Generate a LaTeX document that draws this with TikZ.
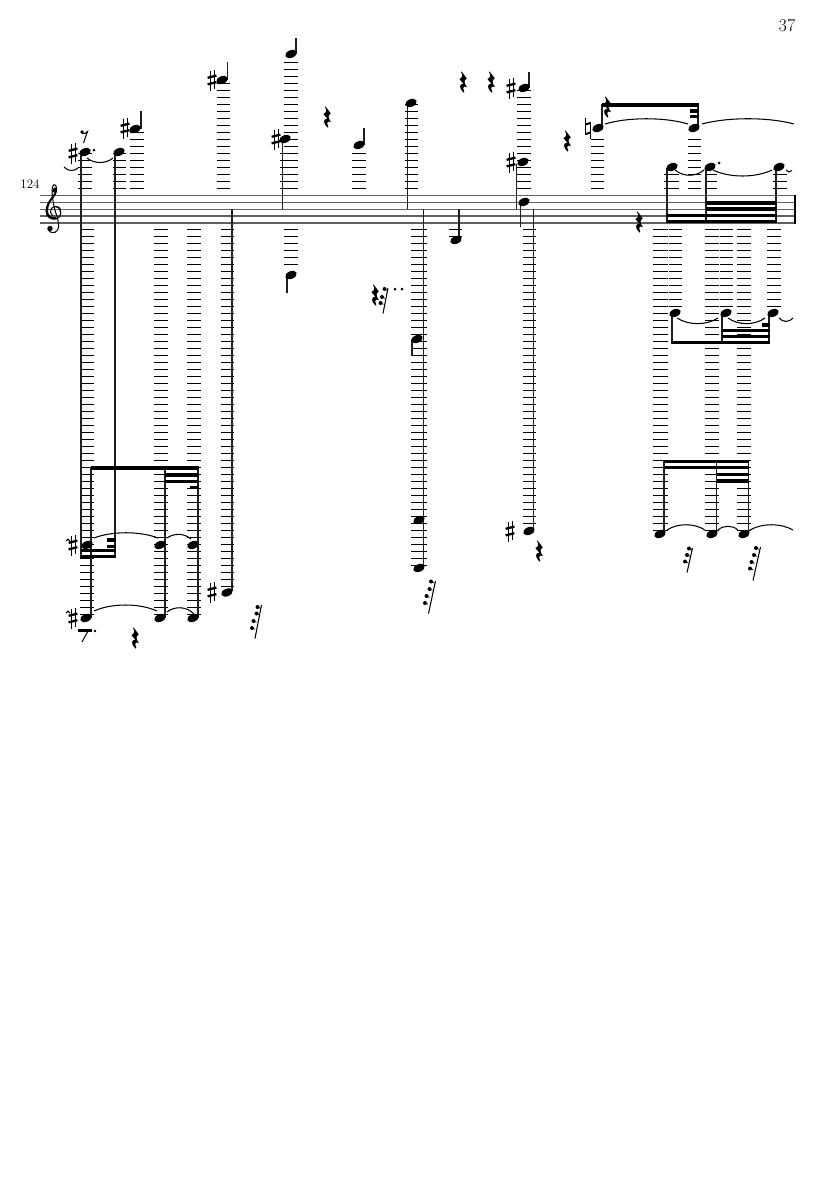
\documentclass[tikz,border=0pt]{standalone}
\usetikzlibrary{calc}
\tikzset{
  stafflines/.style={draw=black!62,line width=1.4pt},
  ledgerline/.style={draw=black,line width=1.92pt},
  stemline/.style={draw=black!88,line width=1.3pt},
  tieline/.style={draw=black,line width=1.05pt},
  beamline/.style={draw=black,line width=3.4pt},
  numtext/.style={inner sep=0pt},
}
\newcommand{\ledup}[3]{\foreach \k in {1,...,#3}{\draw[ledgerline] (#1,{188.5-7*(\k-1)}) -- (#2,{188.5-7*(\k-1)});}}
\newcommand{\leddn}[3]{\foreach \k in {1,...,#3}{\draw[ledgerline] (#1,{229.5+7*(\k-1)}) -- (#2,{229.5+7*(\k-1)});}}
\newcommand{\nhead}[2]{\fill (#1,#2) ellipse[x radius=6pt,y radius=3.8pt,rotate=22];}
\newcommand{\stm}[3]{\draw[stemline] (#1,#2) -- (#1,#3);}
\newcommand{\bm}[3]{\draw[beamline] (#1,#3) -- (#2,#3);}
\newcommand{\tiearc}[5]{\pgfmathsetmacro{\ca}{#1+(#3-#1)*.28}\pgfmathsetmacro{\cb}{#1+(#3-#1)*.72}\draw[tieline] (#1,#2) .. controls (\ca,#5) and (\cb,#5) .. (#3,#4);}
\newcommand{\shp}[2]{\begin{scope}[shift={(#1,#2)}]
  \draw[line width=.85pt] (-2,-9) -- (-2,10.5) (2,-10.5) -- (2,9);
  \draw[line width=2.3pt] (-4.4,-2.2) -- (4.4,-4.4) (-4.4,4.4) -- (4.4,2.2);
\end{scope}}
\newcommand{\qrest}[2]{\begin{scope}[shift={(#1,#2)}]
  \fill (-1.4,-10.5) -- (3.8,-3.6) .. controls (1.4,-2) and (0.2,0) .. (4,5.2)
   .. controls (0.8,3.4) and (-1,5) .. (1.4,10) -- (0.4,10.5)
   .. controls (-4.4,6) and (-3.8,1.6) .. (0.4,1.8)
   -- (-3.6,-3) .. controls (-0.3,-4.5) and (0,-7) .. (-2.1,-10) -- cycle;
\end{scope}}
\newcommand{\slashdots}[6]{\draw[line width=1.05pt] (#1,#2) -- (#3,#4);
  \foreach \px/\py in {#5}{\fill (\px,\py) circle[radius=#6pt];\draw[line width=.8pt] (\px,\py) -- ++(3,1.3);}}
\begin{document}
\begin{tikzpicture}[x=1pt,y=-1pt]
\fill[white] (0,0) rectangle (835,1181);
\useasboundingbox (0,0) rectangle (835,1181);
\node[numtext,font=\fontsize{18}{18}\selectfont] (pageno) at (787,25.5) {37};
\node[numtext,font=\fontsize{13}{13}\selectfont] (barno) at (30,184.5) {124};
% staff
\foreach \yy in {195.4,202.3,209.2,216.1,223}{\draw[stafflines] (40,\yy) -- (795,\yy);}
\draw[black,line width=1.2pt] (795,195) -- (795,223.5);
% clef
\begin{scope}[shift={(54,209)}]
 \draw[line width=1pt,fill=none] (3,7.5) .. controls (-1,-3) and (-2,-16) .. (-2,-19) .. controls (-2,-25) and (2,-27) .. (2.6,-20) .. controls (3,-13) and (-8,-8) .. (-8,2) .. controls (-8,8) and (-3,11) .. (2,10) .. controls (8,9) and (9,-1) .. (2,-2.4) .. controls (-3,-3) and (-5.5,3) .. (-1.5,6.5);
 \draw[line width=2pt] (-1,-17) .. controls (0,-21) and (2,-22) .. (2,-18) .. controls (2,-13) and (-7,-9) .. (-7,2) .. controls (-7,7) and (-3,10) .. (2,9.2);
 \draw[line width=1.3pt] (6.3,3) .. controls (7,-1) and (4,-2.4) .. (2,-2.4);
 \draw[line width=1pt] (3,7.5) .. controls (5,15) and (6,21) .. (1,23.3) .. controls (-3,24.5) and (-6,22) .. (-6,19.5);
 \fill (-4,19.5) circle[radius=2.7pt];
\end{scope}
% ledger lines above
\ledup{78}{92}{6}
\ledup{112.5}{126}{6}
\ledup{130}{143.5}{9}
\ledup{216.5}{230}{16}
\ledup{284}{298}{19}
\ledup{280}{293}{6}
\ledup{352}{366}{6}
\ledup{404.5}{418}{13}
\ledup{517}{531}{15}
\ledup{591}{604}{8}
\ledup{664}{679}{3}
\ledup{687.5}{701}{8}
\ledup{705}{717}{3}
\ledup{773}{787}{3}
% ledger lines below
\leddn{80}{93.5}{56}
\leddn{154}{167.5}{56}
\leddn{187}{200.5}{56}
\leddn{221}{234}{52}
\leddn{284}{298}{6}
\leddn{411}{426.5}{49}
\leddn{449}{462}{2}
\leddn{522.5}{536}{43}
\leddn{653}{667.5}{44}
\leddn{668.5}{682}{12}
\leddn{705}{719}{44}
\leddn{719.5}{733}{12}
\leddn{737}{751}{44}
\leddn{767}{781}{12}
% stems
\stm{81}{155}{558}\stm{115}{155}{558}\stm{91}{467}{618}
\stm{165}{467}{618}\stm{198}{467}{618}\stm{232}{209}{591}
\stm{141}{111}{129}\stm{227.5}{62}{80}\stm{296}{38}{54}
\stm{282.5}{141}{209}\stm{287}{276}{293}\stm{364}{128}{145}
\stm{407.5}{105}{209}\stm{412}{339}{356}\stm{423.5}{209}{568}
\stm{459}{209}{239}\stm{529}{72}{88}\stm{516.5}{164}{209}
\stm{520.5}{203}{227}\stm{533.5}{209}{531}
\stm{602}{104}{128}\stm{698}{104}{128}
\stm{667}{168}{223}\stm{706}{168}{223}\stm{776}{168}{223}
\stm{672}{314}{344}\stm{722}{314}{344}\stm{769}{314}{344}
\stm{664}{460}{533}\stm{716.5}{460}{533}\stm{748.5}{460}{533}
% beams
\bm{91}{198.5}{468}\bm{165}{198.5}{475}\bm{165}{198.5}{481.5}\bm{190}{198.5}{487.5}
\bm{80.5}{115.5}{556.5}\bm{80.5}{115.5}{550.5}\bm{107}{115.5}{540}\bm{107}{115.5}{546.5}
\bm{602}{698.5}{105}\bm{690}{698.5}{111}\bm{690}{698.5}{116.5}
\bm{667}{776.5}{221.5}\bm{667}{706}{215.5}\bm{706}{776.5}{215.5}\bm{706}{776.5}{209}\bm{706}{776.5}{203}
\bm{671.5}{769.5}{342.5}\bm{722}{769.5}{336.5}\bm{722}{769.5}{330.5}\bm{762}{769.5}{325}
\bm{664}{749}{461.5}\bm{664}{749}{467.5}\bm{716.5}{749}{474.5}\bm{716.5}{749}{481}
% noteheads
\foreach \nx/\ny in {85/152,119/152,135/129,222/80,291/54,285/139,291/275,359/145,411/103,
  87/545,160/545,193/545,86/618,160/618,193/618,227/592.5,417/339,419/520,419/568,456/240,
  524/88,523/162,524/202,529/531,598/128,694/128,672/167,710/167,779/167,675/313,726/313,773/313,
  660/534,712/534,744/534}{\nhead{\nx}{\ny}}
% accidentals
\foreach \ax/\ay in {73/153,125/128,212/80,276/139,73/545,73/618,212/592,511/88,511/162,510/531}{\shp{\ax}{\ay}}
\begin{scope}[shift={(588,128)}]
 \draw[line width=.9pt] (-2.3,-10) -- (-2.3,6.5) (2.3,-6.5) -- (2.3,11);
 \draw[line width=2pt] (-2.5,-3.6) -- (2.5,-5) (-2.5,6) -- (2.5,4.6);
\end{scope}
% rests
\foreach \rx/\ry in {327/117,463/82,491/82,567/141,135/638,375/295,539/551,607/107,639/222}{\qrest{\rx}{\ry}}
% eighth-style rests
\fill (82,132) circle[radius=1.9pt];
\draw[line width=1pt] (82,133.5) .. controls (84,134) and (86,133.5) .. (87.5,131.5) -- (83.5,143);
\fill (77.5,628.5) rectangle (92,632.3);
\fill (95,631) circle[radius=1.4pt];
\draw[line width=1pt] (87.5,632) -- (82,642);
% tiny-flag rests
\slashdots{261.5}{605}{255}{638.5}{257.5/607,256.5/613.5,253.5/621,252/628}{2}
\slashdots{435.5}{581}{428.5}{613.5}{431/581.5,429.5/589,426.5/596,425/603}{2}
\slashdots{692.5}{548}{687}{572.5}{689/548.5,687/555,685/561.5}{2}
\slashdots{760.5}{547}{753}{580.5}{756/548,754/555,751.5/562,750/568.5}{2}
\slashdots{388}{288}{383}{313.5}{384.5/289,382/297,380.5/303}{2}
% dots
\foreach \dx/\dy in {94/150,395/289,402/289,719/163}{\fill (\dx,\dy) circle[radius=1.5pt];}
% ties
\tiearc{64}{167}{78}{168}{171.5}
\tiearc{87}{158}{113}{158}{164}
\tiearc{94}{538}{158}{538}{531}
\tiearc{167}{538}{191}{539}{533}
\tiearc{94}{611}{157}{611}{603}
\tiearc{167}{612}{194}{614}{606}
\tiearc{66}{541}{70}{541}{538.5}
\tiearc{66}{613}{70}{613}{610.5}
\tiearc{605}{124}{688}{124}{117}
\tiearc{702}{124}{794}{124}{117}
\tiearc{675}{170}{704}{170}{177}
\tiearc{713}{170}{772}{170}{178}
\tiearc{786}{170}{792}{170.5}{172.5}
\tiearc{677}{318}{718}{318}{325.5}
\tiearc{728}{318}{765}{318}{325.5}
\tiearc{779}{318}{793}{318}{322.5}
\tiearc{667}{530}{705}{530}{523}
\tiearc{718}{530}{738}{530}{525}
\tiearc{750}{530}{793}{530}{523}
\end{tikzpicture}
\end{document}
